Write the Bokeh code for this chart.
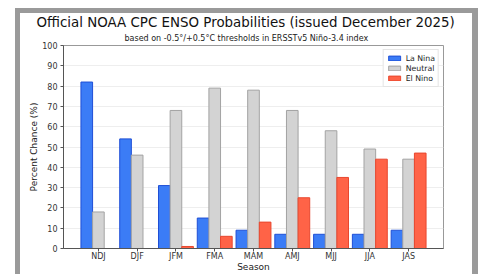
from bokeh.plotting import figure
from bokeh.models import ColumnDataSource, FactorRange, Range1d, Title, SingleIntervalTicker, Legend
from bokeh.transform import dodge
from bokeh.embed import file_html
from bokeh.resources import INLINE

seasons = ["NDJ", "DJF", "JFM", "FMA", "MAM", "AMJ", "MJJ", "JJA", "JAS"]
la_nina = [82, 54, 31, 15, 9, 7, 7, 7, 9]
neutral = [18, 46, 68, 79, 78, 68, 58, 49, 44]
el_nino = [0, 0, 1, 6, 13, 25, 35, 44, 47]

FONT = "DejaVu Sans"
GREY = "#9a9a9a"

src = ColumnDataSource(dict(season=seasons, lanina=la_nina, neutral=neutral, elnino=el_nino))

# the grey frame of the original screenshot is painted as the element background
bg = ", ".join([
    f"linear-gradient({GREY}, {GREY}) 15px 8px / 5px 266px no-repeat",
    f"linear-gradient({GREY}, {GREY}) 15px 8px / 463px 5px no-repeat",
    f"linear-gradient({GREY}, {GREY}) 472px 8px / 6px 266px no-repeat",
    "#ffffff",
])

p = figure(
    width=479, height=274,
    x_range=FactorRange(factors=seasons, range_padding=0.8 / 9, factor_padding=0),
    y_range=Range1d(0, 100),
    output_backend="svg", toolbar_location=None,
    min_border_left=63, min_border_right=36, min_border_top=45, min_border_bottom=26,
    styles={"position": "absolute", "left": "0px", "top": "0px", "background": bg},
)

r1 = p.vbar(x=dodge("season", -0.3, range=p.x_range), top="lanina", width=0.3, source=src,
            fill_color="#3b7cf6", line_color="#1f4fd6", line_width=1)
r2 = p.vbar(x=dodge("season", 0.0, range=p.x_range), top="neutral", width=0.3, source=src,
            fill_color="#d3d3d3", line_color="#a3a3a3", line_width=1)
r3 = p.vbar(x=dodge("season", 0.3, range=p.x_range), top="elnino", width=0.3, source=src,
            fill_color="#ff6347", line_color="#e8472e", line_width=1)

legend = Legend(items=[("La Nina", [r1]), ("Neutral", [r2]), ("El Nino", [r3])],
                location="top_right", margin=4, padding=3, spacing=0,
                label_height=10, glyph_height=6, glyph_width=15, label_standoff=4,
                label_text_font_size="7.8px", label_text_font=FONT, label_text_color="#222222",
                border_line_color="#cccccc", background_fill_alpha=0.9)
p.add_layout(legend, "center")

# titles
sub = Title(text="based on -0.5°/+0.5°C thresholds in ERSSTv5 Niño-3.4 index", align="left",
            text_font_size="8px", text_font=FONT, text_font_style="normal", text_color="#222222",
            standoff=5, offset=61)
main = Title(text="Official NOAA CPC ENSO Probabilities (issued December 2025)", align="left",
             text_font_size="13.4px", text_font=FONT, text_font_style="normal", text_color="#111111",
             standoff=0, offset=-27)
p.add_layout(sub, "above")
p.add_layout(main, "above")

# axes
p.xaxis.axis_label = "Season"
p.yaxis.axis_label = "Percent Chance (%)"
for ax in (p.xaxis[0], p.yaxis[0]):
    ax.axis_label_text_font = FONT
    ax.axis_label_text_font_size = "9px"
    ax.axis_label_text_font_style = "normal"
    ax.axis_label_text_color = "#222222"
    ax.major_label_text_font = FONT
    ax.major_label_text_font_size = "8px"
    ax.major_label_text_color = "#333333"
    ax.axis_line_color = "#555555"
    ax.major_tick_line_color = "#555555"
    ax.major_tick_out = 3
    ax.major_tick_in = 0
    ax.minor_tick_out = 0
    ax.minor_tick_in = 0
p.yaxis.ticker = SingleIntervalTicker(interval=10)
p.yaxis.major_label_standoff = 3
p.yaxis.axis_label_standoff = 0
p.xaxis.major_label_standoff = 0
p.xaxis.axis_label_standoff = -2

p.xgrid.grid_line_color = None
p.ygrid.grid_line_color = "#eeeeee"
p.outline_line_color = "#999999"
p.background_fill_color = "white"
p.border_fill_alpha = 0

open("out.html", "w").write(file_html(p, INLINE))
